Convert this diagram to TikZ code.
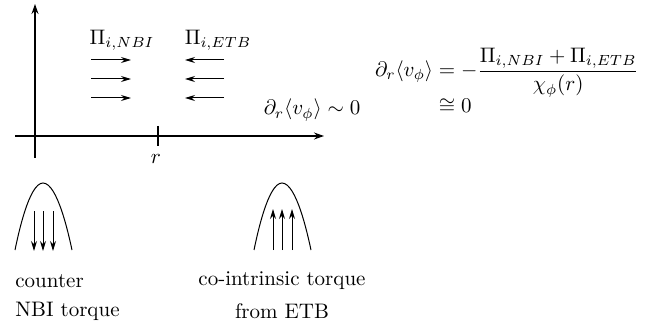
\documentclass[tikz,border=0pt]{standalone}
\usepackage{fix-cm}
\usepackage{amsmath,amssymb}
\usetikzlibrary{arrows.meta}
\begin{document}
\begin{tikzpicture}[x=0.5pt,y=-0.5pt,
  font=\fontsize{10.5pt}{12.6pt}\selectfont,
  axis/.style={line width=0.6pt,-{Stealth[length=5pt,width=3.5pt]}},
  flux/.style={line width=0.5pt,-{Stealth[length=5pt,width=3pt]}},
  bump/.style={line width=0.5pt},
  lbl/.style={inner sep=0pt}]
\useasboundingbox (0,0) rectangle (652,331);
% axes
\coordinate (yb) at (35,158);
\coordinate (yt) at (35,4);
\coordinate (xl) at (15,136);
\coordinate (xr) at (324,136);
\draw[axis] (yb) -- (yt);
\draw[axis] (xl) -- (xr);
\coordinate (tk1) at (158,126);
\coordinate (tk2) at (158,146);
\draw[line width=0.6pt] (tk1) -- (tk2);
\node[lbl] (r) at (156,159) {$r$};
% flux labels
\node[lbl] (pnbi) at (122,40) {$\Pi_{i,NBI}$};
\node[lbl] (petb) at (218,40) {$\Pi_{i,ETB}$};
% flux arrows
\foreach \y [count=\i] in {60,79,98}{
  \coordinate (a\i) at (91,\y);
  \coordinate (b\i) at (131,\y);
  \draw[flux] (a\i) -- (b\i);
  \coordinate (c\i) at (224,\y);
  \coordinate (d\i) at (185,\y);
  \draw[flux] (c\i) -- (d\i);
}
\node[lbl] (grad) at (312,110) {$\partial_r\langle v_\phi\rangle\sim 0$};
% equation
\node[lbl] (eq) at (507,84) {$\begin{aligned}\partial_r\langle v_\phi\rangle &= -\frac{\Pi_{i,NBI}+\Pi_{i,ETB}}{\chi_\phi(r)}\\[-5pt] &\cong 0\end{aligned}$};
% bumps
\coordinate (l0) at (15,250);
\coordinate (lp) at (43,183);
\coordinate (l1) at (72,250);
\draw[bump] (l0) parabola bend (lp) (l1);
\foreach \x [count=\i] in {34,43,53}{
  \coordinate (ls\i) at (\x,211);
  \coordinate (le\i) at (\x,251);
  \draw[flux] (ls\i) -- (le\i);
}
\coordinate (r0) at (254,250);
\coordinate (rp) at (282,183);
\coordinate (r1) at (311,250);
\draw[bump] (r0) parabola bend (rp) (r1);
\foreach \x [count=\i] in {273,282,292}{
  \coordinate (rs\i) at (\x,250);
  \coordinate (re\i) at (\x,209);
  \draw[flux] (rs\i) -- (re\i);
}
% captions
\node[lbl,anchor=west] (c1) at (15,281) {counter};
\node[lbl,anchor=west] (c2) at (15,311) {NBI torque};
\node[lbl] (c3) at (282,281) {co-intrinsic torque};
\node[lbl] (c4) at (282,311) {from ETB};
\end{tikzpicture}
\end{document}
